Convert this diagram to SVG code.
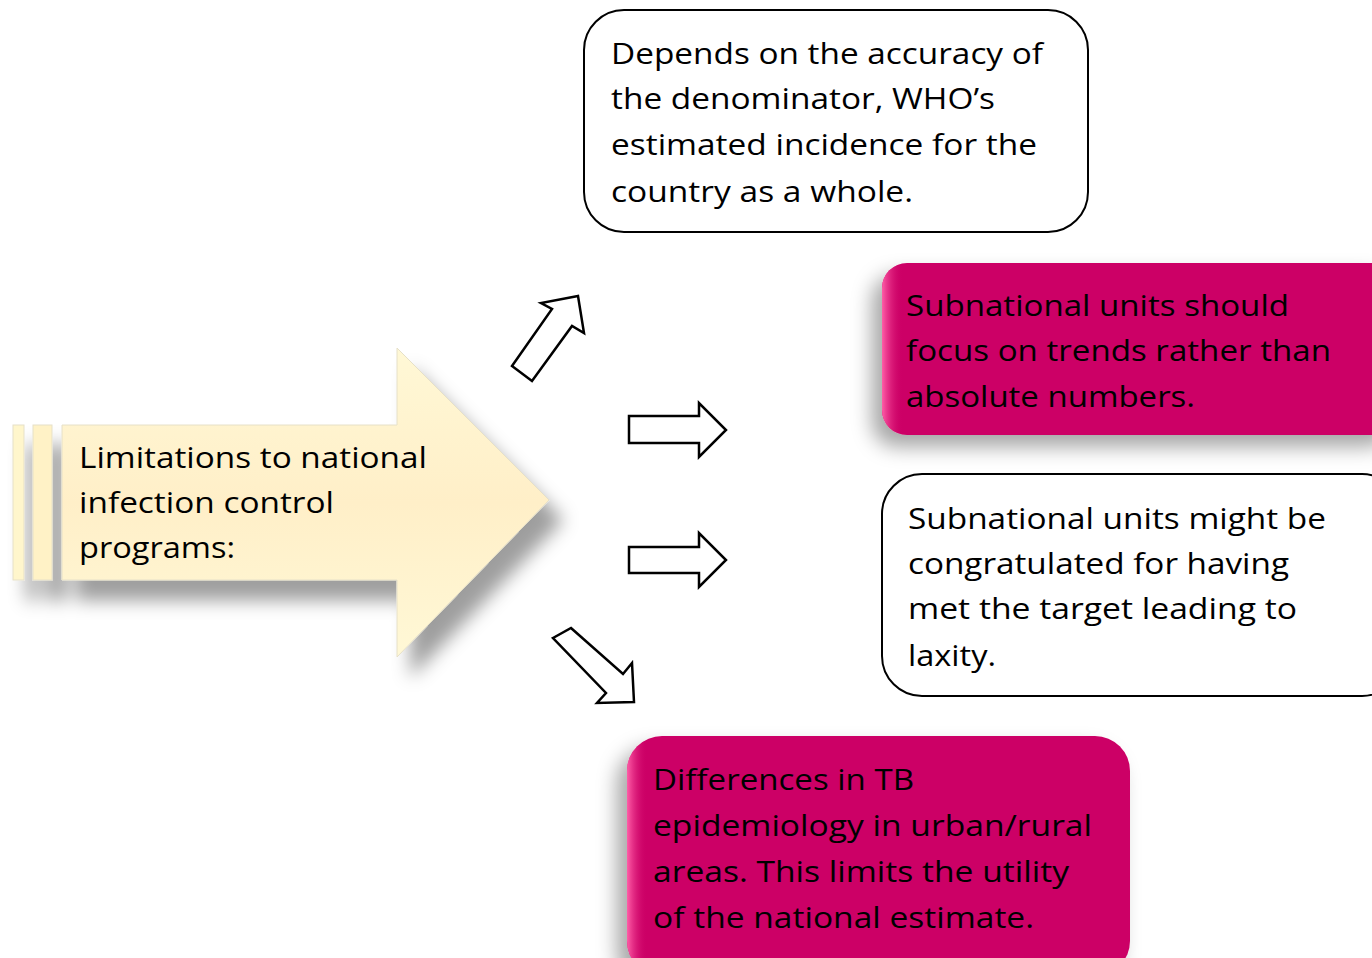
<svg xmlns="http://www.w3.org/2000/svg" width="1372" height="958" viewBox="0 0 1372 958">
<style>
text{font-family:"Open Sans","Noto Sans","Liberation Sans",sans-serif;font-size:30px;fill:#000}
.ob{fill:#fff;stroke:#000;stroke-width:2}
.mg{fill:#CC0066}
.ar{fill:#fff;stroke:#000;stroke-width:2.5;stroke-linejoin:miter}
</style>
<defs>
<filter id="sh" x="-20%" y="-20%" width="150%" height="160%">
<feDropShadow dx="-10" dy="12" stdDeviation="10" flood-color="#000" flood-opacity="0.35"/>
</filter>
<filter id="sh2" x="-20%" y="-20%" width="150%" height="160%">
<feDropShadow dx="14" dy="20" stdDeviation="9" flood-color="#000" flood-opacity="0.38"/>
</filter>
<linearGradient id="yg" x1="0" y1="0" x2="0" y2="1">
<stop offset="0" stop-color="#FFF8D6"/>
<stop offset="0.5" stop-color="#FFEFC8"/>
<stop offset="1" stop-color="#FFF8D6"/>
</linearGradient>
<linearGradient id="mgl" x1="0" y1="0" x2="1" y2="0">
<stop offset="0" stop-color="#FF5FA8"/>
<stop offset="0.04" stop-color="#CC0066" stop-opacity="0"/>
</linearGradient>
</defs>

<g id="source">
<g filter="url(#sh2)">
<path d="M62,425 H397 V348 L549,500 L397,657 V580 H62 Z" fill="url(#yg)" stroke="#E6E0C8" stroke-width="1"/>
<rect x="13" y="425" width="11" height="155" fill="#FFF6CC" stroke="#E6E0C8" stroke-width="1"/>
<rect x="33" y="425" width="19" height="155" fill="#FFF2C6" stroke="#E6E0C8" stroke-width="1"/>
</g>
<text x="79" y="468" textLength="348" lengthAdjust="spacingAndGlyphs">Limitations to national</text>
<text x="79" y="513" textLength="255" lengthAdjust="spacingAndGlyphs">infection control</text>
<text x="79" y="558" textLength="156" lengthAdjust="spacingAndGlyphs">programs:</text>
</g>

<g id="node-denominator">
<rect class="ob" x="584" y="10" width="504" height="222" rx="40"/>
<text x="611" y="64" textLength="432" lengthAdjust="spacingAndGlyphs">Depends on the accuracy of</text>
<text x="611" y="109" textLength="384" lengthAdjust="spacingAndGlyphs">the denominator, WHO’s</text>
<text x="611" y="155" textLength="426" lengthAdjust="spacingAndGlyphs">estimated incidence for the</text>
<text x="611" y="202" textLength="302" lengthAdjust="spacingAndGlyphs">country as a whole.</text>
</g>

<g id="node-trends">
<rect class="mg" x="882" y="263" width="520" height="172" rx="25" filter="url(#sh)"/>
<rect x="882" y="263" width="520" height="172" rx="25" fill="url(#mgl)"/>
<text x="906" y="316" textLength="383" lengthAdjust="spacingAndGlyphs">Subnational units should</text>
<text x="906" y="361" textLength="425" lengthAdjust="spacingAndGlyphs">focus on trends rather than</text>
<text x="906" y="407" textLength="289" lengthAdjust="spacingAndGlyphs">absolute numbers.</text>
</g>

<g id="node-laxity">
<rect class="ob" x="882" y="474" width="520" height="222" rx="40"/>
<text x="908" y="529" textLength="418" lengthAdjust="spacingAndGlyphs">Subnational units might be</text>
<text x="908" y="574" textLength="381" lengthAdjust="spacingAndGlyphs">congratulated for having</text>
<text x="908" y="619" textLength="389" lengthAdjust="spacingAndGlyphs">met the target leading to</text>
<text x="908" y="666" textLength="88" lengthAdjust="spacingAndGlyphs">laxity.</text>
</g>

<g id="node-urban-rural">
<rect class="mg" x="627" y="736" width="503" height="240" rx="35" filter="url(#sh)"/>
<rect x="627" y="736" width="503" height="240" rx="35" fill="url(#mgl)"/>
<text x="653" y="790" textLength="261" lengthAdjust="spacingAndGlyphs">Differences in TB</text>
<text x="653" y="836" textLength="439" lengthAdjust="spacingAndGlyphs">epidemiology in urban/rural</text>
<text x="653" y="882" textLength="416" lengthAdjust="spacingAndGlyphs">areas. This limits the utility</text>
<text x="653" y="928" textLength="381" lengthAdjust="spacingAndGlyphs">of the national estimate.</text>
</g>

<g id="connectors">
<polygon class="ar" points="578,296 584,333 572,326 532,381 512,366 552,309 541,303"/>
<polygon class="ar" points="629,416 699,416 699,403 726,430 699,457 699,443 629,443"/>
<polygon class="ar" points="629,547 699,547 699,533 726,560 699,587 699,573 629,573"/>
<polygon class="ar" points="571,628 623,674 632,663 634,702 597,703 606,693 553,638"/>
</g>
</svg>
